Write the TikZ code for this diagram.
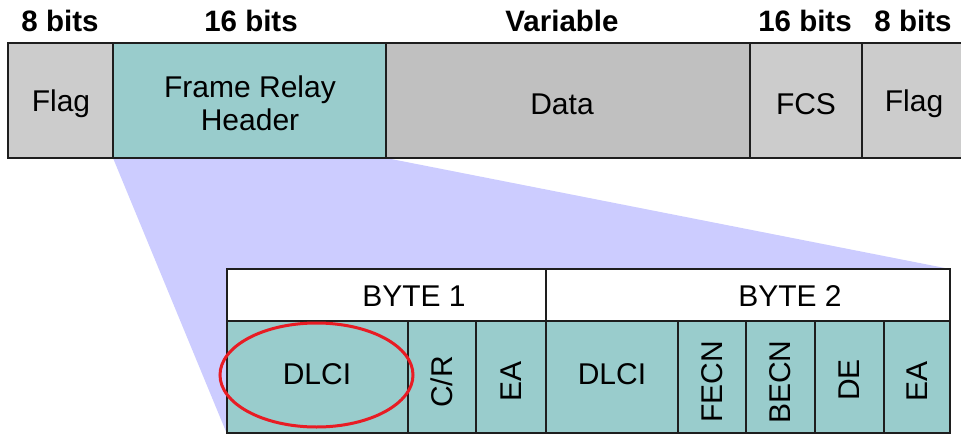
\documentclass[tikz,border=0pt]{standalone}
\usepackage{fontspec}
\setmainfont{Liberation Sans}
\usetikzlibrary{shapes.geometric}
\definecolor{teal1}{RGB}{153,204,204}
\definecolor{grayA}{RGB}{204,204,204}
\definecolor{grayB}{RGB}{192,192,192}
\definecolor{lav}{RGB}{204,204,255}
\definecolor{redc}{RGB}{232,28,36}
\definecolor{edge}{RGB}{30,30,30}
\begin{document}
\begin{tikzpicture}[x=1pt,y=-1pt,
  field/.style={draw=edge, line width=1.3pt, inner sep=0pt, outer sep=0pt},
  toplab/.style={inner sep=0pt, anchor=base, font=\fontsize{29.5}{31}\selectfont\bfseries},
  txt/.style={inner sep=0pt, align=center, font=\fontsize{30}{33}\selectfont},
  vtxt/.style={txt, rotate=90},
  circ/.style={draw=redc, line width=3pt, ellipse, minimum width=193pt, minimum height=104pt, inner sep=0pt}]
\useasboundingbox (0,0) rectangle (961,434);
% top row
\node[field, fill=grayA, minimum width=105pt, minimum height=115pt] (flag1) at (60.5,100.5) {};
\node[field, fill=teal1, minimum width=273pt, minimum height=115pt] (hdr) at (249.5,100.5) {};
\node[field, fill=grayB, minimum width=364pt, minimum height=115pt] (data) at (568,100.5) {};
\node[field, fill=grayA, minimum width=112pt, minimum height=115pt] (fcs) at (806,100.5) {};
\node[field, fill=grayA, minimum width=104pt, minimum height=115pt] (flag2) at (914,100.5) {};
\node[txt] (flag1t) at (61,104) {Flag};
\node[txt] (hdrt) at (250,103) {Frame Relay\\Header};
\node[txt] (datat) at (562,104) {Data};
\node[txt] (fcst) at (806,104) {FCS};
\node[txt] (flag2t) at (914,104) {Flag};
% top labels
\node[toplab] (l1) at (60,31.5) {8 bits};
\node[toplab] (l2) at (251,31.5) {16 bits};
\node[toplab] (l3) at (562,31.5) {Variable};
\node[toplab] (l4) at (805,31.5) {16 bits};
\node[toplab] (l5) at (913,31.5) {8 bits};
% bottom structure coordinates
\coordinate (bTR) at (950,269);
\coordinate (bBL) at (227,434);
% zoom trapezoid
\fill[lav] (hdr.south west) -- (hdr.south east) -- (bTR) -- (bBL) -- cycle;
\draw[edge, line width=1.3pt] (flag1.south west) -- (flag2.south east);
% byte row
\node[field, fill=white, minimum width=319pt, minimum height=52pt] (byte1) at (386.5,295) {};
\node[field, fill=white, minimum width=404pt, minimum height=52pt] (byte2) at (748,295) {};
\node[txt] (b1t) at (414,296) {BYTE 1};
\node[txt] (b2t) at (790,296) {BYTE 2};
% bit fields
\node[field, fill=teal1, minimum width=181pt, minimum height=112pt] (dlci1) at (317.5,377) {};
\node[field, fill=teal1, minimum width=68pt, minimum height=112pt] (cr) at (442,377) {};
\node[field, fill=teal1, minimum width=70pt, minimum height=112pt] (ea1) at (511,377) {};
\node[field, fill=teal1, minimum width=132pt, minimum height=112pt] (dlci2) at (612,377) {};
\node[field, fill=teal1, minimum width=68pt, minimum height=112pt] (fecn) at (712,377) {};
\node[field, fill=teal1, minimum width=69pt, minimum height=112pt] (becn) at (780.5,377) {};
\node[field, fill=teal1, minimum width=69pt, minimum height=112pt] (de) at (849.5,377) {};
\node[field, fill=teal1, minimum width=66pt, minimum height=112pt] (ea2) at (917,377) {};
\node[txt] (dlci1t) at (317,374) {DLCI};
\node[txt] (dlci2t) at (612,374) {DLCI};
\node[vtxt] (crt) at (442,382) {C/R};
\node[vtxt] (ea1t) at (511,381) {EA};
\node[vtxt] (fecnt) at (712,382) {FECN};
\node[vtxt] (becnt) at (780.5,382) {BECN};
\node[vtxt] (det) at (849.5,380) {DE};
\node[vtxt] (ea2t) at (917,381) {EA};
% highlight
\node[circ] (hl) at (316.5,375) {};
\end{tikzpicture}
\end{document}
